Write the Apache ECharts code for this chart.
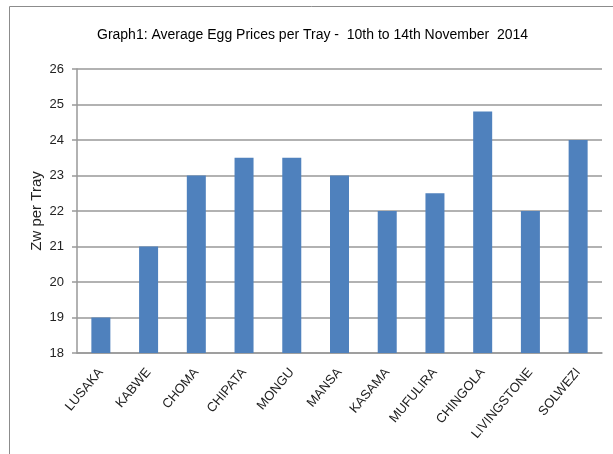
<!DOCTYPE html>
<html>
<head>
<meta charset="utf-8">
<script src="https://cdn.jsdelivr.net/npm/echarts@6/dist/echarts.min.js"></script>
<style>
html,body{margin:0;padding:0;background:#fff;}
#chart{width:613px;height:454px;}
</style>
</head>
<body>
<div id="chart"></div>
<script>
const categories = ['LUSAKA','KABWE','CHOMA','CHIPATA','MONGU','MANSA','KASAMA','MUFULIRA','CHINGOLA','LIVINGSTONE','SOLWEZI'];
const prices = [19, 21, 23, 23.5, 23.5, 23, 22, 22.5, 24.8, 22, 24];
const yTicks = {min: 18, max: 26, interval: 1};
const titleText = 'Graph1: Average Egg Prices per Tray -  10th to 14th November  2014';
const yAxisName = 'Zw per Tray';

const chart = echarts.init(document.getElementById('chart'), null, {renderer: 'canvas'});
const font = '"Liberation Sans", Arial, sans-serif';
chart.setOption({
  animation: false,
  backgroundColor: '#fff',
  graphic: [{
    type: 'rect',
    left: 7, top: 4,
    shape: {width: 700, height: 600},
    style: {fill: 'none', stroke: '#8c8c8c', lineWidth: 1}
  }, {
    type: 'text',
    x: 37, y: 211,
    rotation: Math.PI / 2,
    style: {
      text: yAxisName,
      font: '15px "Liberation Sans", Arial, sans-serif',
      fill: '#222',
      align: 'center',
      verticalAlign: 'middle'
    }
  }],
  title: {
    text: titleText,
    left: 92,
    top: 23,
    textStyle: {fontFamily: font, fontSize: 14, fontWeight: 'normal', color: '#000'}
  },
  grid: {left: 77, right: 11, top: 69, bottom: 101, containLabel: false},
  xAxis: {
    type: 'category',
    data: categories,
    axisLine: {lineStyle: {color: '#999', width: 1.5}},
    axisTick: {show: false},
    axisLabel: {rotate: 50, margin: 17, fontFamily: font, fontSize: 13, color: '#222', interval: 0}
  },
  yAxis: {
    type: 'value',
    min: yTicks.min, max: yTicks.max, interval: yTicks.interval,
    axisLine: {show: true, lineStyle: {color: '#999', width: 1.5}},
    axisTick: {show: true, length: 5, lineStyle: {color: '#999', width: 1.5}},
    axisLabel: {margin: 13, fontFamily: font, fontSize: 13, color: '#222'},
    splitLine: {lineStyle: {color: '#999', width: 1.5}}
  },
  series: [{
    type: 'bar',
    data: prices,
    barWidth: 19,
    itemStyle: {color: '#4F81BD'}
  }]
});
</script>
</body>
</html>
